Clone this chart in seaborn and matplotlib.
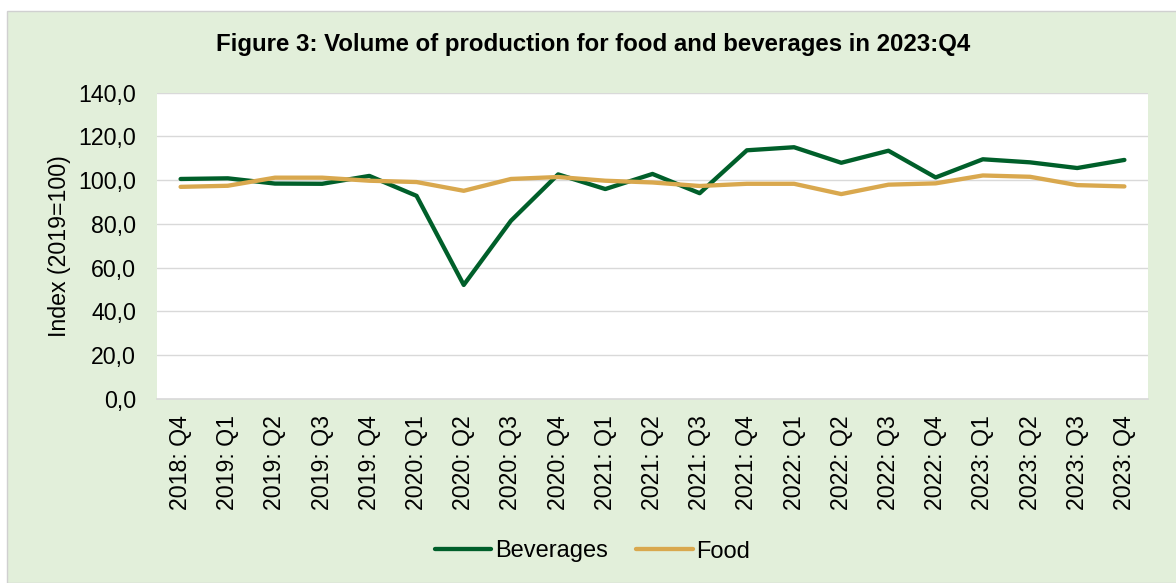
import numpy as np
import pandas as pd
import matplotlib
matplotlib.use('Agg')
import matplotlib.pyplot as plt
import seaborn as sns
from matplotlib.patches import Rectangle
from matplotlib.ticker import FuncFormatter

# quarters on the x axis
quarters = ['2018: Q4',
            '2019: Q1', '2019: Q2', '2019: Q3', '2019: Q4',
            '2020: Q1', '2020: Q2', '2020: Q3', '2020: Q4',
            '2021: Q1', '2021: Q2', '2021: Q3', '2021: Q4',
            '2022: Q1', '2022: Q2', '2022: Q3', '2022: Q4',
            '2023: Q1', '2023: Q2', '2023: Q3', '2023: Q4']

# index values (2019=100)
beverages = [100.5, 100.8, 98.4, 98.3, 101.9,
             92.8, 52.1, 81.4, 102.6,
             95.9, 102.8, 94.0, 113.6,
             115.0, 107.9, 113.4, 101.2,
             109.5, 108.1, 105.5, 109.2]
food = [96.9, 97.4, 101.1, 101.1, 99.7,
        99.1, 95.1, 100.5, 101.4,
        99.7, 98.9, 97.3, 98.3,
        98.3, 93.6, 97.9, 98.5,
        102.1, 101.5, 97.7, 97.1]

series_names = ['Beverages', 'Food']
colours = ['#005F2A', '#D9A84E']

df = pd.DataFrame({'quarter': quarters * 2,
                   'value': beverages + food,
                   'series': [series_names[0]] * len(quarters) + [series_names[1]] * len(quarters)})

sns.set_style('white')
plt.rcParams['font.family'] = ['Liberation Sans', 'DejaVu Sans']
plt.rcParams['text.color'] = 'black'
plt.rcParams['axes.labelcolor'] = 'black'
plt.rcParams['xtick.color'] = 'black'
plt.rcParams['ytick.color'] = 'black'

fig = plt.figure(figsize=(11.76, 5.83), dpi=100)
fig.patch.set_facecolor('white')
# green chart area with thin grey border
fig.patches.append(Rectangle((7 / 1176, 0), 1.0, 1 - 11 / 583, transform=fig.transFigure,
                             facecolor='#E2EFDA', edgecolor='#D0D0D0', linewidth=1.0, zorder=-5))

ax = fig.add_axes([157 / 1176, 1 - 399 / 583, (1148 - 157) / 1176, (399 - 92.5) / 583])
ax.set_facecolor('white')

sns.lineplot(data=df, x='quarter', y='value', hue='series', palette=colours,
             linewidth=3.1, sort=False, ax=ax, solid_capstyle='round')

ax.set_xlim(-0.5, len(quarters) - 0.5)
ax.set_ylim(0, 140)
ax.set_yticks(np.arange(0, 141, 20))
ax.yaxis.set_major_formatter(FuncFormatter(lambda v, p: f'{v:.1f}'.replace('.', ',')))
ax.grid(axis='y', color='#D9D9D9', linewidth=1.0)
ax.set_axisbelow(True)
for s in ['top', 'right', 'left']:
    ax.spines[s].set_visible(False)
ax.spines['bottom'].set_color('#D9D9D9')
ax.spines['bottom'].set_linewidth(1.2)

ax.tick_params(axis='x', labelrotation=90, labelsize=16.7, length=0, pad=11.5)
ax.tick_params(axis='y', labelsize=16.7, length=0, pad=15)
ax.set_xlabel('')
ax.set_ylabel('Index (2019=100)', fontsize=16.7, labelpad=5.5)

fig.text(593.5 / 1176, 1 - 45 / 583,
         'Figure 3: Volume of production for food and beverages in 2023:Q4',
         ha='center', va='center', fontsize=17.3, fontweight='bold')

ax.legend(title=None, loc='center', bbox_to_anchor=(0.5 * (436 + 749) / 1176, 1 - 551.5 / 583),
          bbox_transform=fig.transFigure, ncol=2, frameon=False, fontsize=17,
          handlelength=2.4, handletextpad=0.15, columnspacing=1.2)

fig.savefig('out.png', dpi=100)
